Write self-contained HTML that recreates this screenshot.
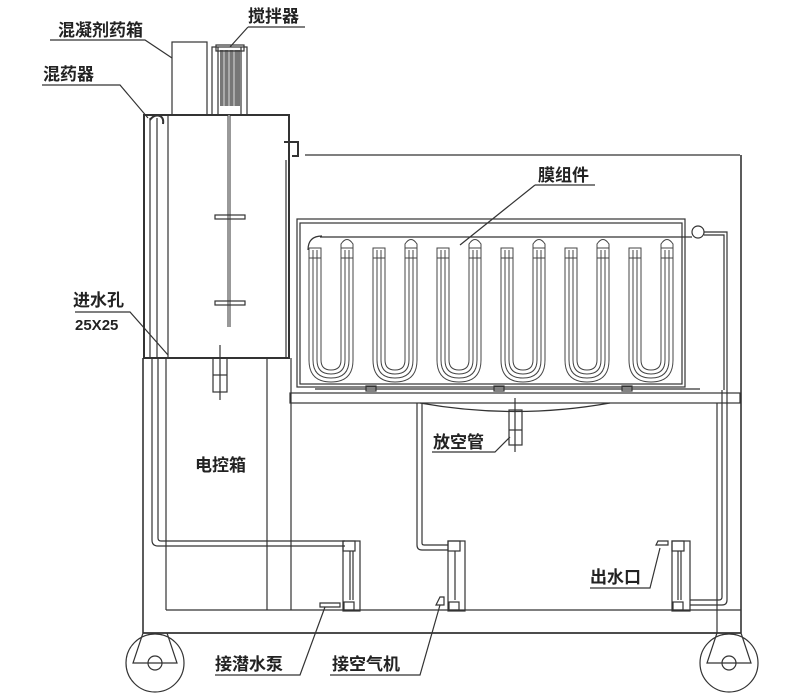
<!DOCTYPE html>
<html><head><meta charset="utf-8"><style>
html,body{margin:0;padding:0;background:#fff;}
svg{display:block;}
text{font-family:"Liberation Sans","Noto Sans CJK SC",sans-serif;font-weight:bold;fill:#222;}
</style></head><body>
<svg width="800" height="696" viewBox="0 0 800 696" xmlns="http://www.w3.org/2000/svg">
<g fill="none" stroke="#333" stroke-width="1.2">
<rect x="172" y="42" width="35" height="73"/>
<rect x="212" y="47" width="35" height="68"/>
<line x1="218" y1="47" x2="218" y2="115"/><line x1="241" y1="47" x2="241" y2="115"/>
<rect x="220" y="50" width="20" height="56" fill="#777" stroke="none"/>
<line x1="224" y1="50" x2="224" y2="106" stroke="#ccc"/><line x1="229" y1="50" x2="229" y2="106" stroke="#ccc"/><line x1="234" y1="50" x2="234" y2="106" stroke="#ccc"/>
<rect x="216" y="45" width="28" height="6"/>
<rect x="144" y="115" width="145" height="243" stroke-width="2"/>
<line x1="168" y1="115" x2="168" y2="358"/>
<line x1="150" y1="118" x2="150" y2="358"/>
<line x1="157" y1="118" x2="157" y2="358"/>
<line x1="286" y1="160" x2="286" y2="358"/>
<path d="M150 120 q4-6 10-4 q4 2 3 8" stroke-width="2"/>
<line x1="229" y1="115" x2="229" y2="327" stroke-width="3"/>
<line x1="229" y1="115" x2="229" y2="327" stroke="#fff" stroke-width="1"/>
<rect x="215" y="215" width="30" height="4"/><rect x="215" y="301" width="30" height="4"/>
<path d="M284 142 h14 v14 h-6" stroke-width="2"/>
<line x1="305" y1="155" x2="740" y2="155"/>
<rect x="213" y="358" width="14" height="34"/><line x1="213" y1="375" x2="227" y2="375"/><line x1="220" y1="345" x2="220" y2="400"/>
<line x1="143" y1="358" x2="143" y2="633" stroke-width="1.6"/>
<line x1="166" y1="358" x2="166" y2="610"/>
<line x1="267" y1="358" x2="267" y2="610"/>
<line x1="291" y1="358" x2="291" y2="610"/>
<line x1="717" y1="403" x2="717" y2="633"/>
<line x1="741" y1="155" x2="741" y2="633" stroke-width="1.6"/>
<line x1="166" y1="610" x2="741" y2="610"/>
<line x1="143" y1="633" x2="741" y2="633" stroke-width="1.8"/>
<circle cx="155" cy="663" r="29"/><circle cx="155" cy="663" r="7"/>
<path d="M143 633 L133 663 H177 L167 633"/>
<circle cx="729" cy="663" r="29"/><circle cx="729" cy="663" r="7"/>
<path d="M717 633 L707 663 H751 L741 633"/>
<rect x="297" y="219" width="388" height="168"/>
<rect x="300" y="223" width="382" height="161"/>
<circle cx="698" cy="232" r="6"/>
<path d="M704 232 H727 V390"/><path d="M704 235 H724 V390"/>
<path d="M320 237 H692"/><path d="M308 250 q0-14 14-14"/>
<rect x="290" y="393" width="450" height="10"/>
<line x1="315" y1="389" x2="700" y2="389"/>
<path d="M420 403 Q515 420 610 403"/>
<rect x="366" y="386" width="10" height="5"/><rect x="494" y="386" width="10" height="5"/><rect x="622" y="386" width="10" height="5"/>
<rect x="509" y="410" width="13" height="35"/><line x1="509" y1="430" x2="522" y2="430"/><line x1="515" y1="398" x2="515" y2="452"/>
<path d="M152 358 V540 q0 6 6 6 H345"/><path d="M158 358 V538 q0 3 3 3 H345"/>
<path d="M417 403 V545 q0 5 5 5 H448"/><path d="M422 403 V543 q0 2 2 2 H448"/>
<path d="M722 390 V597 q0 3-3 3 H690"/><path d="M727 390 V600 q0 5-5 5 H690"/>
<rect x="343" y="541" width="17" height="70"/><rect x="343" y="541" width="12" height="10"/><line x1="350" y1="551" x2="350" y2="600"/><line x1="353" y1="551" x2="353" y2="600"/><rect x="344" y="602" width="10" height="8"/>
<rect x="448" y="541" width="17" height="70"/><rect x="448" y="541" width="12" height="10"/><line x1="455" y1="551" x2="455" y2="600"/><rect x="449" y="602" width="10" height="8"/>
<rect x="672" y="541" width="18" height="70"/><rect x="672" y="541" width="12" height="10"/><line x1="678" y1="551" x2="678" y2="600"/><line x1="681" y1="551" x2="681" y2="600"/><rect x="673" y="602" width="10" height="8"/>
<path d="M320 607 h20 v-4 h-20 z"/><path d="M436 605 h8 v-8 h-4 z"/><path d="M656 545 h12 v-4 h-10 z"/>
<path d="M50 40 H145 L172 58"/>
<path d="M248 27 H305"/><path d="M248 27 L230 47"/>
<path d="M42 85 H120 L148 118"/>
<path d="M75 312 H130 L168 355"/>
<path d="M535 185 H595"/><path d="M535 185 L460 245"/>
<path d="M432 452 H495 L510 437"/>
<path d="M590 588 H650 L660 548"/>
<path d="M215 675 H300 L325 607"/>
<path d="M330 675 H420 L440 605"/>
</g>
<g fill="none" stroke="#444" stroke-width="1">
<g id="u">
<path d="M309 250 V360 Q309 382 331 382 Q353 382 353 360 V250"/>
<path d="M313 250 V360 Q313 378 331 378 Q349 378 349 360 V250"/>
<path d="M317 250 V360 Q317 374 331 374 Q345 374 345 360 V250"/>
<path d="M321 250 V360 Q321 370 331 370 Q341 370 341 360 V250"/>
<rect x="309" y="248" width="12" height="10"/><rect x="341" y="248" width="12" height="10"/>
<path d="M341 248 v-4 q6-9 12 0 v4"/>
</g>
<use href="#u" x="64"/><use href="#u" x="128"/><use href="#u" x="192"/><use href="#u" x="256"/><use href="#u" x="320"/>
</g>
<g font-size="17">
<text x="58" y="36">混凝剂药箱</text>
<text x="248" y="22">搅拌器</text>
<text x="43" y="80">混药器</text>
<text x="73" y="306">进水孔</text>
<text x="75" y="330" font-size="15">25X25</text>
<text x="538" y="181">膜组件</text>
<text x="195" y="471">电控箱</text>
<text x="433" y="448">放空管</text>
<text x="590" y="583">出水口</text>
<text x="215" y="670">接潜水泵</text>
<text x="332" y="670">接空气机</text>
</g>
</svg>
</body></html>
